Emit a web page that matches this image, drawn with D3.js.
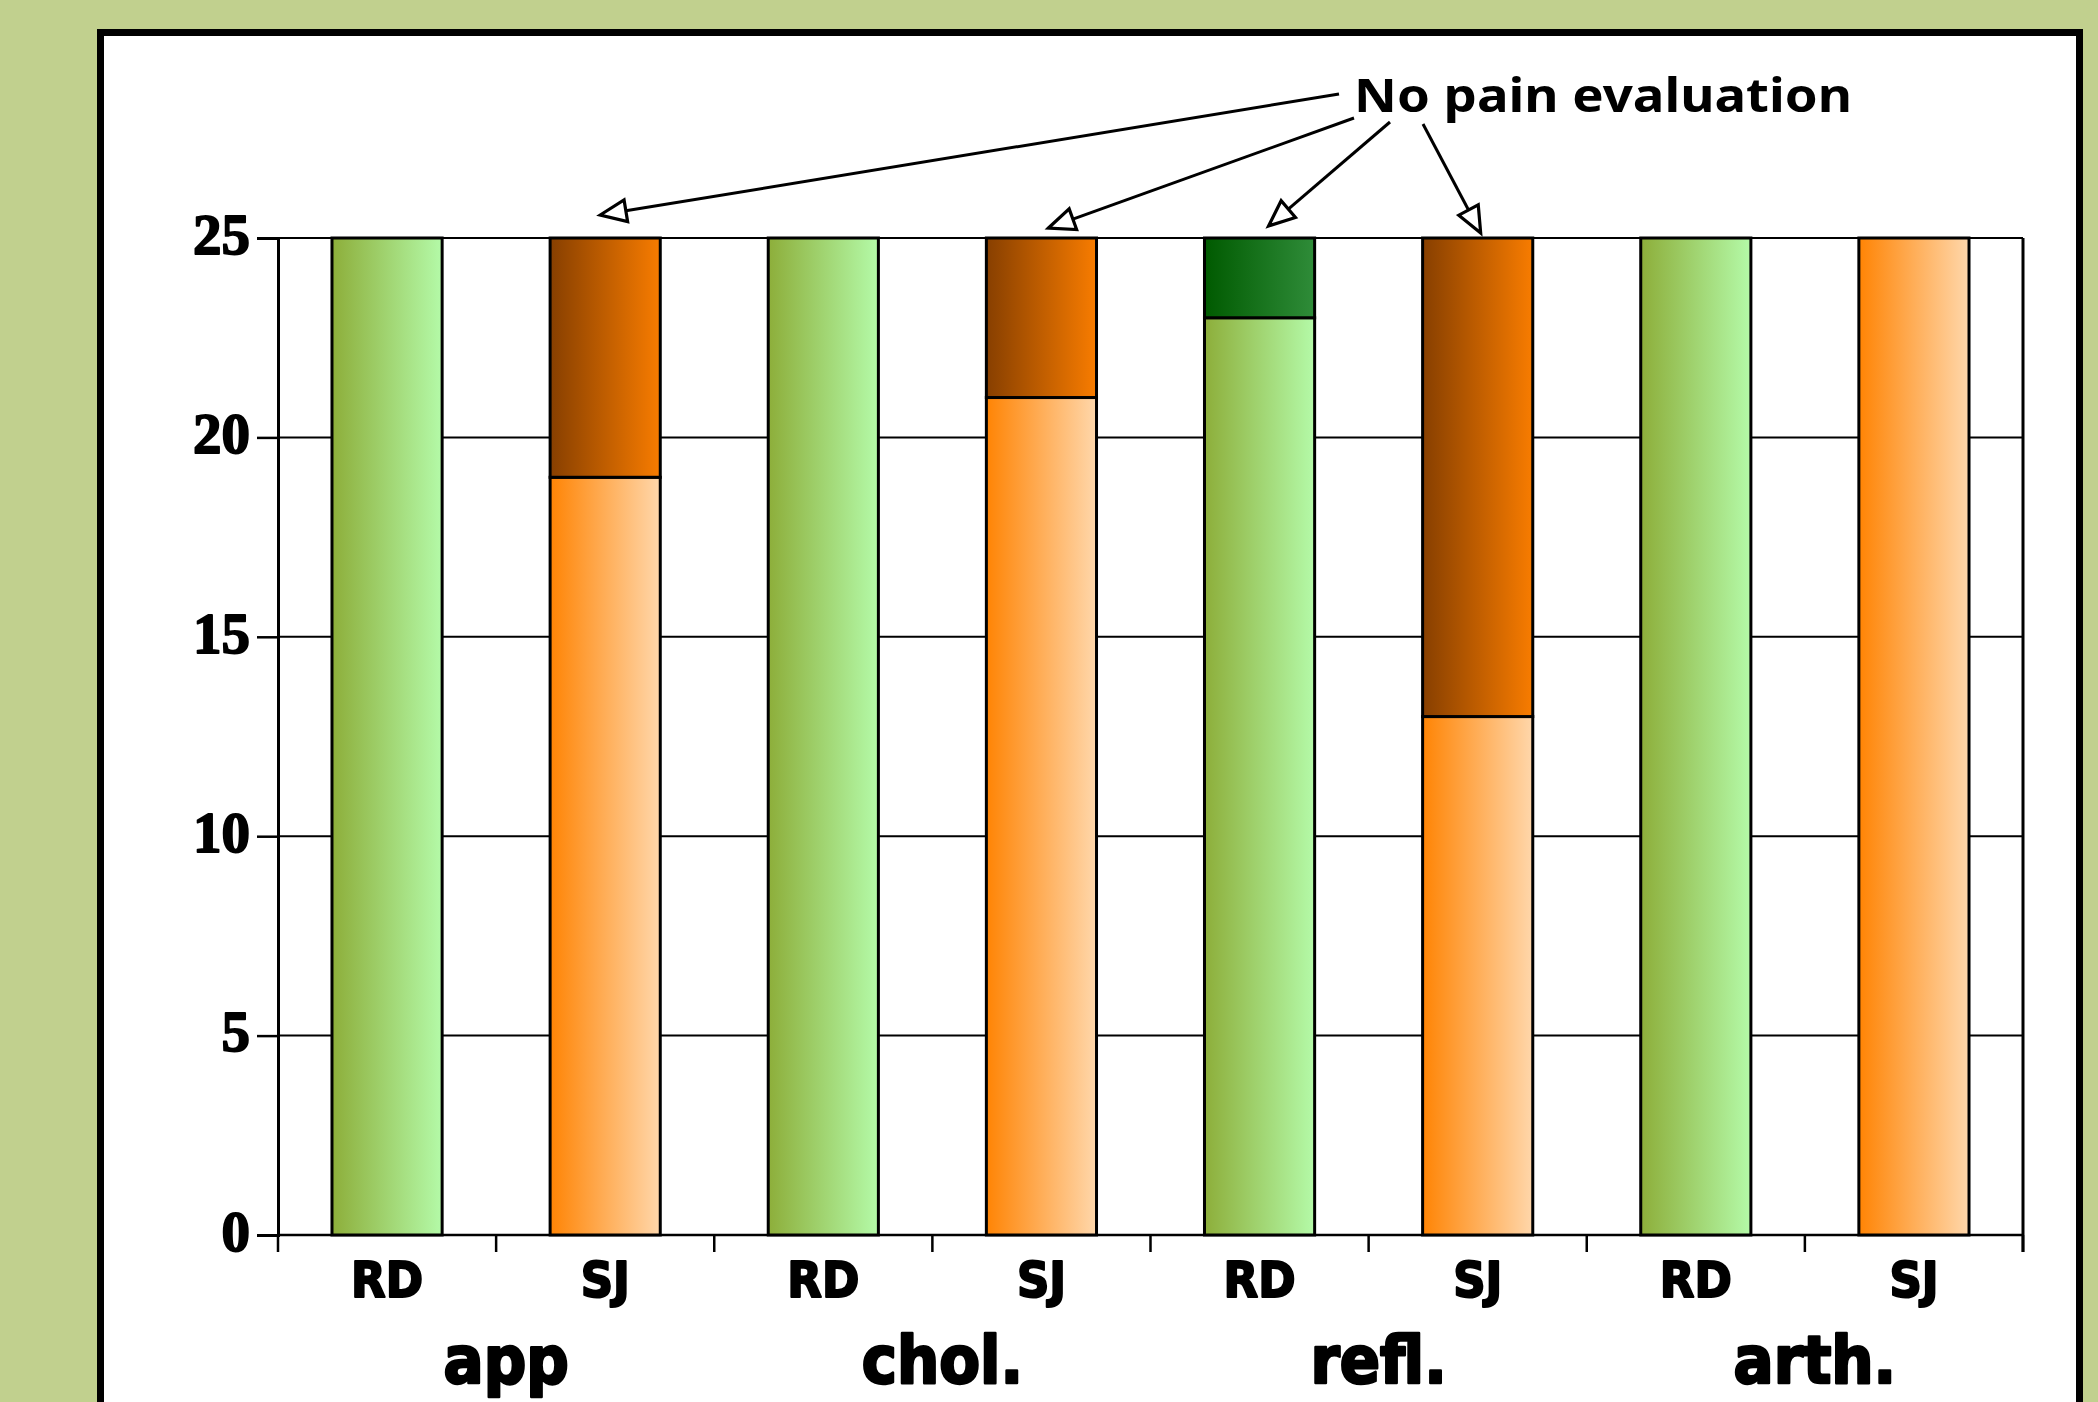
<!DOCTYPE html>
<html>
<head>
<meta charset="utf-8">
<script src="https://cdn.jsdelivr.net/npm/d3@7"></script>
<style>
  html, body { margin: 0; padding: 0; background: #C1D08E; }
  svg { display: block; }
</style>
</head>
<body>
<svg id="chart" width="2098" height="1402"></svg>
<script>
// ---------------- data ----------------
const groups = ["app", "chol.", "refl.", "arth."];
const subjects = ["RD", "SJ"];
const barGroup = ["app", "app", "chol.", "chol.", "refl.", "refl.", "arth.", "arth."];
const barSubject = ["RD", "SJ", "RD", "SJ", "RD", "SJ", "RD", "SJ"];
const evaluated = [25, 19, 25, 21, 23, 13, 25, 25];
const noPainEvaluation = [0, 6, 0, 4, 2, 12, 0, 0];
const yTickValues = [0, 5, 10, 15, 20, 25];
const annotationLabel = "No pain evaluation";
const annotatedBars = [1, 3, 4, 5];

// ---------------- layout ----------------
const W = 2098, H = 1402;
const plot = { left: 278, right: 2023, top: 238, bottom: 1235 };
const svg = d3.select("#chart");

const rows = barGroup.map((g, i) => ({
  key: g + "-" + barSubject[i], group: g, subject: barSubject[i],
  evaluated: evaluated[i], noEval: noPainEvaluation[i]
}));

const x = d3.scaleBand().domain(rows.map(d => d.key)).range([plot.left, plot.right]).padding(0);
const xg = d3.scaleBand().domain(groups).range([plot.left, plot.right]).padding(0);
const y = d3.scaleLinear().domain([0, 25]).range([plot.bottom, plot.top]);
const barW = x.bandwidth() * 0.505;

// gradients
const defs = svg.append("defs");
const grads = {
  RD_evaluated: ["#8DAE3A", "#B4FAA8"],
  RD_noEval: ["#005A00", "#2F8C39"],
  SJ_evaluated: ["#FF8404", "#FFD7AB"],
  SJ_noEval: ["#873F00", "#F87C00"]
};
Object.entries(grads).forEach(([id, [c0, c1]]) => {
  const g = defs.append("linearGradient").attr("id", id)
    .attr("x1", "0%").attr("x2", "100%").attr("y1", "0%").attr("y2", "0%");
  g.append("stop").attr("offset", "0%").attr("stop-color", c0);
  g.append("stop").attr("offset", "100%").attr("stop-color", c1);
});

// background + panel
svg.append("rect").attr("width", W).attr("height", H).attr("fill", "#C1D08E");
svg.append("rect").attr("x", 100.5).attr("y", 32.5).attr("width", 1979).attr("height", 1500)
  .attr("fill", "#ffffff").attr("stroke", "#000").attr("stroke-width", 7);

// gridlines
const gGrid = svg.append("g");
gGrid.selectAll("line").data(yTickValues).join("line")
  .attr("x1", plot.left).attr("x2", plot.right)
  .attr("y1", d => y(d)).attr("y2", d => y(d))
  .attr("stroke", "#000").attr("stroke-width", 2);

// y axis
const yAxis = d3.axisLeft(y).tickValues(yTickValues).tickSize(21).tickPadding(7).tickFormat(d3.format("d"));
const gy = svg.append("g").attr("transform", `translate(${plot.left},0)`).call(yAxis);
gy.select(".domain").attr("stroke", "#000").attr("stroke-width", 3);
gy.selectAll(".tick line").attr("stroke", "#000").attr("stroke-width", 2.5);
gy.selectAll(".tick text")
  .attr("font-family", "'Liberation Serif', 'Times New Roman', serif")
  .attr("font-weight", "bold").attr("font-size", 57).attr("fill", "#000")
  .attr("stroke", "#000").attr("stroke-width", 1.8).attr("stroke-linejoin", "round")
  .attr("dy", "0.27em");

// right border line of plot
svg.append("line").attr("x1", plot.right).attr("x2", plot.right)
  .attr("y1", plot.top).attr("y2", plot.bottom + 17)
  .attr("stroke", "#000").attr("stroke-width", 3);

// x axis ticks at band boundaries
const boundaries = rows.map(d => x(d.key)).concat([plot.right]);
svg.append("g").selectAll("line").data(boundaries).join("line")
  .attr("x1", d => d).attr("x2", d => d)
  .attr("y1", plot.bottom).attr("y2", plot.bottom + 17)
  .attr("stroke", "#000").attr("stroke-width", 2.5);
svg.append("line").attr("x1", plot.left).attr("x2", plot.right)
  .attr("y1", plot.bottom).attr("y2", plot.bottom)
  .attr("stroke", "#000").attr("stroke-width", 2.5);

// stacked bars
const stack = d3.stack().keys(["evaluated", "noEval"]);
const series = stack(rows);
const gBars = svg.append("g");
series.forEach(s => {
  gBars.selectAll(null).data(s.filter(d => d[1] - d[0] > 0)).join("rect")
    .attr("x", d => x(d.data.key) + (x.bandwidth() - barW) / 2)
    .attr("width", barW)
    .attr("y", d => y(d[1]))
    .attr("height", d => y(d[0]) - y(d[1]))
    .attr("fill", d => `url(#${d.data.subject}_${s.key})`)
    .attr("stroke", "#000").attr("stroke-width", 3);
});

// x labels
const condensed = "'DejaVu Sans Condensed', 'DejaVu Sans', sans-serif";
svg.append("g").selectAll("text").data(rows).join("text")
  .attr("x", d => x(d.key) + x.bandwidth() / 2)
  .attr("y", 1297)
  .attr("text-anchor", "middle")
  .attr("font-family", condensed).attr("font-stretch", "condensed")
  .attr("font-weight", "bold").attr("font-size", 50)
  .attr("stroke", "#000").attr("stroke-width", 2).attr("stroke-linejoin", "round")
  .text(d => d.subject);

svg.append("g").selectAll("text").data(groups).join("text")
  .attr("x", d => xg(d) + xg.bandwidth() / 2 + 10)
  .attr("y", 1383)
  .attr("text-anchor", "middle")
  .attr("font-family", condensed).attr("font-stretch", "condensed")
  .attr("font-weight", "bold").attr("font-size", 66)
  .attr("stroke", "#000").attr("stroke-width", 2.5).attr("stroke-linejoin", "round")
  .text(d => d);

// annotation
const textX = 1354, textBase = 112;
svg.append("text").attr("x", textX).attr("y", textBase)
  .attr("font-family", "'Noto Sans', 'DejaVu Sans', sans-serif")
  .attr("font-weight", "bold").attr("font-size", 47)
  .attr("textLength", 498).attr("lengthAdjust", "spacingAndGlyphs")
  .text(annotationLabel);

// arrow geometry: start near text, tip near bar top
const arrowStarts = [[-15, -18], [0, 6], [36, 10], [69, 12]];
const tipOffsets = [[-5, -23], [7, -10], [9, -12], [3, -5]];
const gArr = svg.append("g");
annotatedBars.forEach((bi, k) => {
  const r = rows[bi];
  const cx = x(r.key) + x.bandwidth() / 2;
  const tip = [cx + tipOffsets[k][0], y(r.evaluated + r.noEval) + tipOffsets[k][1]];
  const st = [textX + arrowStarts[k][0], textBase + arrowStarts[k][1]];
  const dx = tip[0] - st[0], dy = tip[1] - st[1];
  const L = Math.hypot(dx, dy), ux = dx / L, uy = dy / L;
  const len = 26, hw = 11;
  const base = [tip[0] - ux * len, tip[1] - uy * len];
  gArr.append("line")
    .attr("x1", st[0]).attr("y1", st[1]).attr("x2", base[0]).attr("y2", base[1])
    .attr("stroke", "#000").attr("stroke-width", 3);
  const pts = [tip,
    [base[0] - uy * hw, base[1] + ux * hw],
    [base[0] + uy * hw, base[1] - ux * hw]];
  gArr.append("polygon").attr("points", pts.map(p => p.join(",")).join(" "))
    .attr("fill", "#fff").attr("stroke", "#000").attr("stroke-width", 3.2)
    .attr("stroke-linejoin", "miter");
});
</script>
</body>
</html>
